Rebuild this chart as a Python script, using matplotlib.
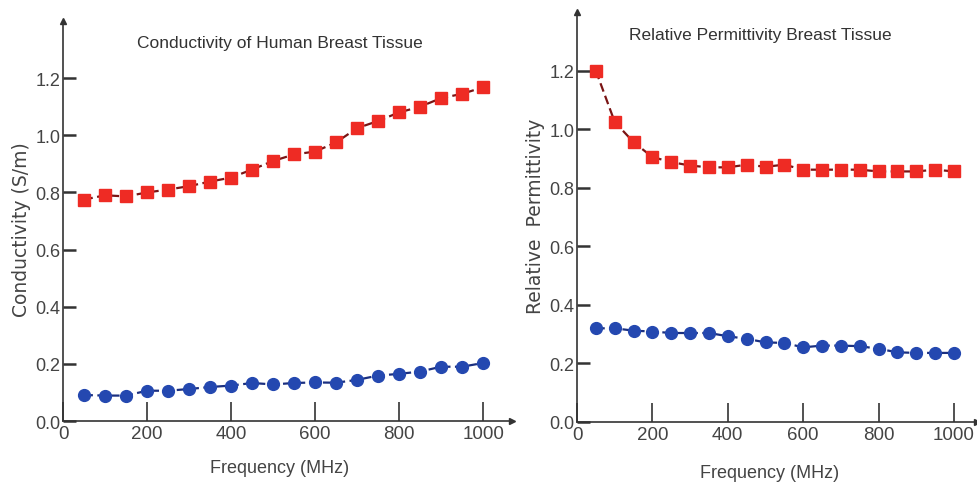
import matplotlib as mpl
import matplotlib.pyplot as plt
import numpy as np

mpl.rcParams['font.family'] = ['Liberation Sans Narrow', 'Liberation Sans', 'DejaVu Sans']

# frequency points (MHz)
freq = [50, 100, 150, 200, 250, 300, 350, 400, 450, 500,
        550, 600, 650, 700, 750, 800, 850, 900, 950, 1000]

# conductivity (S/m)
cond_red = [0.775, 0.79, 0.786, 0.80, 0.81, 0.822, 0.838, 0.852, 0.88, 0.91,
            0.933, 0.943, 0.975, 1.025, 1.05, 1.08, 1.10, 1.13, 1.145, 1.168]
cond_blue = [0.091, 0.089, 0.089, 0.106, 0.106, 0.112, 0.119, 0.124, 0.133, 0.128,
             0.133, 0.135, 0.134, 0.144, 0.159, 0.165, 0.173, 0.19, 0.19, 0.203]

# relative permittivity
perm_red = [1.20, 1.025, 0.956, 0.905, 0.888, 0.876, 0.87, 0.87, 0.879, 0.872,
            0.879, 0.862, 0.862, 0.862, 0.862, 0.856, 0.856, 0.856, 0.862, 0.856]
perm_blue = [0.32, 0.32, 0.312, 0.309, 0.304, 0.304, 0.304, 0.293, 0.284, 0.272,
             0.27, 0.255, 0.261, 0.261, 0.259, 0.25, 0.238, 0.236, 0.236, 0.236]

red = '#ee2b24'
red_line = '#7a1414'
blue = '#2448b0'
blue_line = '#1a2f80'

fig = plt.figure(figsize=(9.77, 4.89), dpi=100)

panels = [
    dict(rect=[0.0645, 0.137, 0.4596, 0.818], xmax=1069, red=cond_red, blue=cond_blue,
         title='Conductivity of Human Breast Tissue', ylabel='Conductivity (S/m)',
         title_xy=(0.483, 0.947), ylabel_xy=(-0.072, 0.48), xlabel_xy=(0.483, -0.095)),
    dict(rect=[0.5906, 0.135, 0.4094, 0.838], xmax=1061, red=perm_red, blue=perm_blue,
         title='Relative Permittivity Breast Tissue', ylabel='Relative  Permittivity',
         title_xy=(0.4575, 0.946), ylabel_xy=(-0.08, 0.505), xlabel_xy=(0.4825, -0.102)),
]

for p in panels:
    ax = fig.add_axes(p['rect'])
    ax.plot(freq, p['red'], linestyle=(0, (4, 2)), color=red_line, lw=1.6,
            marker='s', ms=8.5, mfc=red, mec=red, zorder=3)
    ax.plot(freq, p['blue'], linestyle=(0, (4, 2)), color=blue_line, lw=1.6,
            marker='o', ms=8.5, mfc=blue, mec=blue, zorder=3)

    ax.set_xlim(0, p['xmax'])
    ax.set_ylim(0, 1.4)
    ax.set_xticks(np.arange(0, 1001, 200))
    ax.set_yticks(np.arange(0, 1.21, 0.2))
    ax.set_yticklabels([f'{v:.1f}' for v in np.arange(0, 1.21, 0.2)])

    for s in ['top', 'right']:
        ax.spines[s].set_visible(False)
    for s in ['left', 'bottom']:
        ax.spines[s].set_color('#333333')
        ax.spines[s].set_linewidth(1.2)

    ax.tick_params(axis='x', direction='in', length=14, width=1.2, color='#333333',
                   labelsize=13.5, labelcolor='#444444', pad=3)
    ax.tick_params(axis='y', direction='in', length=9, width=1.8, color='#333333',
                   labelsize=13, labelcolor='#444444', pad=2)

    # axis arrows
    ax.plot(1, 0, '>', color='#333333', ms=5, transform=ax.get_yaxis_transform(), clip_on=False)
    ax.plot(0, 1, '^', color='#333333', ms=5, transform=ax.get_xaxis_transform(), clip_on=False)

    ax.text(p['title_xy'][0], p['title_xy'][1], p['title'], transform=ax.transAxes,
            ha='center', va='center', fontsize=12.5, color='#333333')
    ax.set_xlabel('Frequency (MHz)', fontsize=13, color='#444444')
    ax.xaxis.set_label_coords(*p['xlabel_xy'])
    ax.set_ylabel(p['ylabel'], fontsize=13.5, color='#444444', family='DejaVu Sans')
    ax.yaxis.set_label_coords(*p['ylabel_xy'])

fig.savefig('out.png', dpi=100)
